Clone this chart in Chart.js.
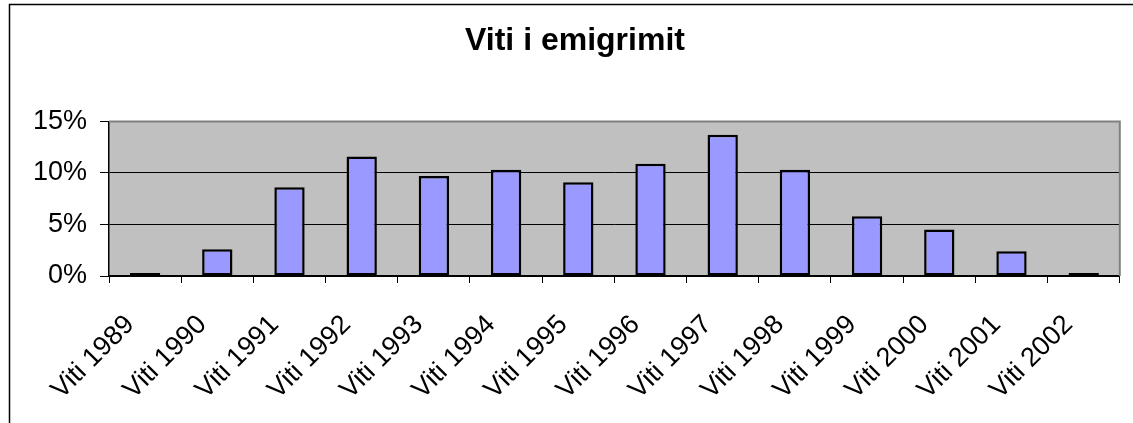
<!DOCTYPE html>
<html>
<head>
<meta charset="utf-8">
<title>Viti i emigrimit</title>
<script src="https://cdn.jsdelivr.net/npm/chart.js@4.4.1/dist/chart.umd.min.js"></script>
<style>
    html, body { margin: 0; padding: 0; background: #ffffff; }
    #wrap { width: 1133px; height: 423px; }
</style>
</head>
<body>
<div id="wrap"><canvas id="emigrationChart" width="1133" height="423"></canvas></div>
<script>
// Chart data (percent of emigrants per year)
var years = ['Viti 1989', 'Viti 1990', 'Viti 1991', 'Viti 1992', 'Viti 1993', 'Viti 1994', 'Viti 1995',
             'Viti 1996', 'Viti 1997', 'Viti 1998', 'Viti 1999', 'Viti 2000', 'Viti 2001', 'Viti 2002'];
var shares = [0.1, 2.6, 8.6, 11.6, 9.7, 10.3, 9.1, 10.9, 13.7, 10.3, 5.8, 4.5, 2.4, 0.3];
var yTicks = [0, 5, 10, 15];

var FONT = "'Liberation Sans', Arial, sans-serif";

// Gray plot background, plot frame and the outer chart frame
var framePlugin = {
    id: 'framePlugin',
    beforeDraw: function(chart) {
        var ctx = chart.ctx;
        var a = chart.chartArea;
        ctx.save();
        ctx.fillStyle = '#c0c0c0';
        ctx.fillRect(a.left, a.top, a.right - a.left, a.bottom - a.top);
        // outer frame (only left and top edges are in view)
        ctx.strokeStyle = '#000000';
        ctx.lineWidth = 1.5;
        ctx.beginPath();
        ctx.moveTo(9.5, 423);
        ctx.lineTo(9.5, 4.5);
        ctx.lineTo(1133, 4.5);
        ctx.stroke();
        ctx.restore();
    },
    afterDatasetsDraw: function(chart) {
        var ctx = chart.ctx;
        var a = chart.chartArea;
        ctx.save();
        ctx.strokeStyle = '#808080';
        ctx.lineWidth = 2;
        ctx.beginPath();
        ctx.moveTo(a.left, a.top);
        ctx.lineTo(a.right, a.top);
        ctx.lineTo(a.right, a.bottom);
        ctx.stroke();
        ctx.restore();
    }
};

function initEmigrationChart() {
    var ctx = document.getElementById('emigrationChart').getContext('2d');

    var chart = new Chart(ctx, {
        type: 'bar',
        data: {
            labels: years,
            datasets: [{
                label: 'Viti i emigrimit',
                data: shares,
                backgroundColor: '#9999ff',
                borderColor: '#000000',
                borderWidth: 2.5,
                borderSkipped: false,
                minBarLength: 3,
                barPercentage: 0.42,
                categoryPercentage: 1
            }]
        },
        options: {
            responsive: false,
            animation: false,
            devicePixelRatio: 1,
            layout: {
                padding: { left: 28, right: 11, top: 0, bottom: 0 }
            },
            plugins: {
                legend: { display: false },
                tooltip: { enabled: false },
                title: {
                    display: true,
                    text: 'Viti i emigrimit',
                    color: '#000000',
                    font: { family: FONT, size: 32, weight: 'bold', lineHeight: 1.2 },
                    padding: { top: 22, bottom: 61 }
                }
            },
            scales: {
                x: {
                    grid: {
                        offset: true,
                        drawOnChartArea: false,
                        drawTicks: true,
                        tickLength: 7,
                        tickColor: '#000000',
                        lineWidth: 1
                    },
                    border: { display: true, color: '#000000', width: 1.5 },
                    ticks: {
                        color: '#000000',
                        font: { family: FONT, size: 27 },
                        minRotation: 45,
                        maxRotation: 45,
                        autoSkip: false,
                        labelOffset: -15,
                        padding: 26
                    },
                    afterFit: function(scale) { scale.height = 147; }
                },
                y: {
                    min: 0,
                    max: 15,
                    afterBuildTicks: function(scale) {
                        scale.ticks = yTicks.map(function(v) { return { value: v }; });
                    },
                    grid: {
                        color: function(c) {
                            return c.tick && c.tick.value === 15 ? '#808080' : '#000000';
                        },
                        lineWidth: 1,
                        tickLength: 9,
                        tickColor: '#000000'
                    },
                    border: { display: true, color: '#000000', width: 1.5 },
                    ticks: {
                        color: '#000000',
                        font: { family: FONT, size: 27 },
                        padding: 13,
                        callback: function(v) { return v + '%'; }
                    },
                    afterFit: function(scale) { scale.width = 81; }
                }
            }
        },
        plugins: [framePlugin]
    });

    return chart;
}

initEmigrationChart();
</script>
</body>
</html>
